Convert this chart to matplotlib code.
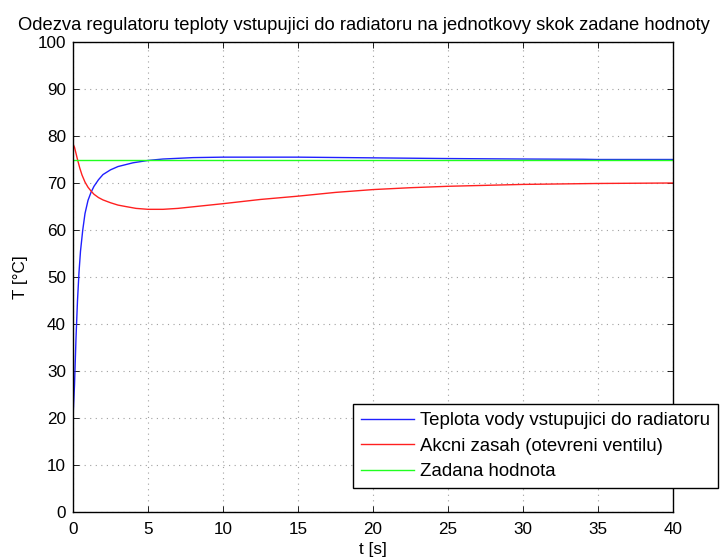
import numpy as np
import matplotlib
matplotlib.use('Agg')
from matplotlib import pyplot as plt

# casove body a hodnoty
t_voda = [0, 0.1, 0.2, 0.3, 0.4, 0.5, 0.65, 0.8, 1.0, 1.2, 1.4, 1.7, 2.0, 2.5, 3.0, 4.0, 5.0,
          6.0, 8.0, 10.0, 15.0, 20.0, 25.0, 30.0, 34.0, 35.0, 40.0]
teplota_voda = [20, 27, 37, 45, 51, 55.5, 60, 63.5, 66.3, 68.0, 69.3, 70.7, 71.8, 72.8, 73.5, 74.3, 74.8,
                75.1, 75.4, 75.5, 75.5, 75.35, 75.2, 75.1, 75.05, 75.0, 75.0]

t_zasah = [0, 0.1, 0.2, 0.3, 0.45, 0.6, 0.8, 1.0, 1.2, 1.4, 1.7, 2.0, 2.5, 3.0, 3.5, 4.2, 5.0, 6.0,
           7.0, 8.5, 10.0, 12.5, 15.0, 17.5, 20.0, 22.5, 25.0, 30.0, 35.0, 40.0]
akcni_zasah = [78.3, 77.6, 76.3, 75.0, 73.2, 71.7, 70.2, 69.1, 68.3, 67.6, 66.9, 66.4, 65.8, 65.3,
               65.0, 64.6, 64.4, 64.4, 64.6, 65.1, 65.6, 66.5, 67.2, 68.0, 68.6, 69.0, 69.3, 69.7,
               69.9, 70.0]

t_zadana = [0, 40]
zadana_hodnota = [75, 75]

plt.rcParams['font.family'] = ['Liberation Sans', 'DejaVu Sans']
plt.rcParams['font.size'] = 12.3

fig = plt.figure(figsize=(7.2, 5.59), dpi=100)
ax = fig.add_axes([73/720, 47/559, 600/720, 470/559])

ax.plot(t_voda, teplota_voda, color='#2020ff', lw=1, label='Teplota vody vstupujici do radiatoru')
ax.plot(t_zasah, akcni_zasah, color='#ff2020', lw=1, label='Akcni zasah (otevreni ventilu)')
ax.plot(t_zadana, zadana_hodnota, color='#20ff20', lw=1, label='Zadana hodnota')

ax.set_xlim(0, 40)
ax.set_ylim(0, 100)
ax.set_xticks(np.arange(0, 41, 5))
ax.set_yticks(np.arange(0, 101, 10))
ax.tick_params(direction='in', top=True, right=True, length=4, width=0.6, pad=5)
ax.tick_params(axis='x', pad=7)
ax.grid(True, linestyle=(0, (1, 4)), color='#a0a0a0', lw=0.8)
for s in ax.spines.values():
    s.set_linewidth(1.0)

ax.set_xlabel('t [s]', labelpad=4)
ax.set_ylabel('T [°C]', labelpad=7)
ax.set_title('Odezva regulatoru teploty vstupujici do radiatoru na jednotkovy skok zadane hodnoty',
             fontsize=13.2, pad=9, x=0.485)

leg = ax.legend(loc='upper left', bbox_to_anchor=(0.4667, 0.2298), fancybox=False,
                edgecolor='black', framealpha=1, handlelength=2.85, borderpad=0.43,
                labelspacing=0.46, handletextpad=0.3, borderaxespad=0, fontsize=13.4)
leg.get_frame().set_linewidth(1.0)

fig.savefig('out.png', dpi=100)
